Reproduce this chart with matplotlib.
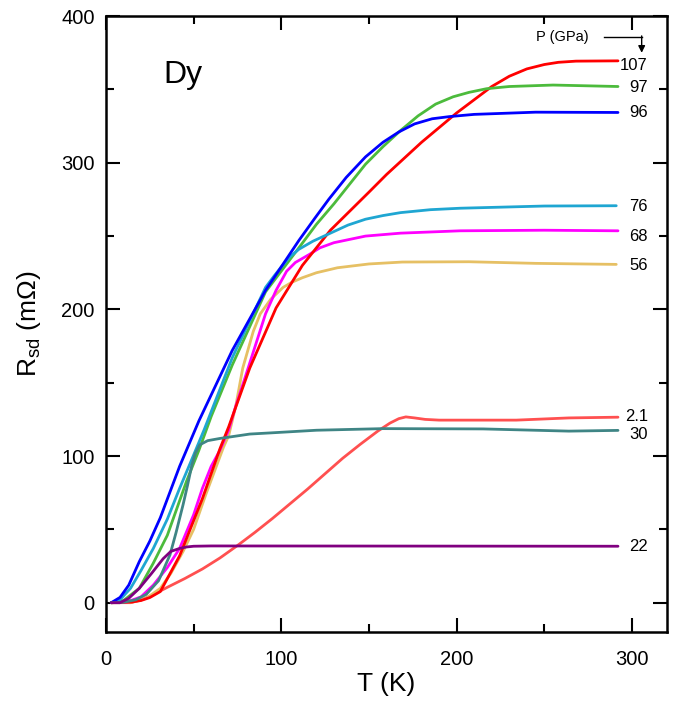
import matplotlib.pyplot as plt
from matplotlib.ticker import MultipleLocator

plt.rcParams["font.family"] = ["Liberation Sans", "DejaVu Sans"]
plt.rcParams["mathtext.fontset"] = "custom"
plt.rcParams["mathtext.rm"] = "Liberation Sans"

# ===== DATA =====
# pressure label -> (T in K, R_sd in mOhm)
t_107 = [3, 15, 20, 25, 31, 42, 55, 65, 70, 82, 97, 112, 120, 128, 139, 150, 160, 170,
         180, 190, 200, 210, 220, 230, 240, 250, 258, 268, 292]
r_107 = [0, 0.5, 1.5, 3.5, 7.6, 32, 71, 105, 120, 160, 201, 230, 242, 254, 267, 280, 292, 303,
         314, 324, 334, 343, 352, 359, 364, 367, 368.5, 369.3, 369.5]

t_97 = [3, 10, 19, 27, 35, 46, 53, 60, 72, 91, 110, 120, 130, 140, 148, 158, 168, 178, 188,
        198, 207, 217, 230, 255, 292]
r_97 = [0, 1.5, 9.8, 27, 46, 83, 104, 127, 162, 212, 242, 258, 272, 287, 299, 311, 322, 332, 340,
        345, 348, 350.5, 352, 353, 352]

t_96 = [3, 8, 13, 19, 25, 31, 42, 53, 72, 91, 110, 119, 127, 137, 148, 158, 167, 176, 186,
        196, 210, 245, 292]
r_96 = [0, 3.6, 12, 28, 42, 58, 93, 124, 172, 213, 247, 262, 275, 290, 304, 314, 321, 326.5, 330,
        331.5, 333, 334.5, 334.3]

t_76 = [3, 8, 14, 20, 27, 35, 42, 48, 56, 72, 91, 96, 100, 105, 110, 118, 128, 138, 148,
        158, 168, 185, 202, 250, 291]
r_76 = [0, 2, 9.8, 22, 37, 57, 78, 95, 118, 167, 215, 223, 229, 236, 241, 246.5, 252, 257.5,
        261.5, 264, 266, 268, 269, 270.5, 270.7]

t_68 = [3, 12, 20, 27, 35, 42, 50, 55, 60, 65, 70, 74, 80, 91, 97, 103, 108, 116, 122, 130,
        148, 168, 202, 250, 292]
r_68 = [0, 0.5, 4, 12, 24, 37, 60, 78, 93, 104, 118, 134, 156, 197, 213, 226, 232, 237.5, 242,
        245.5, 250, 252, 253.6, 254, 253.6]

t_56 = [3, 15, 23, 31, 37, 44, 50, 57, 62, 67, 70, 74, 78, 84, 88, 94, 101, 106, 112, 120,
        132, 150, 169, 207, 245, 291]
r_56 = [0, 0.5, 3, 9.8, 20, 35, 50, 74, 90, 106, 114, 134, 160, 185, 197, 207, 215, 218.5, 221.6,
        225, 228.4, 231, 232.3, 232.5, 231.4, 230.7]

t_30 = [3, 10, 17, 23, 30, 36.5, 40, 44, 46.5, 49, 51, 53.5, 58, 65, 82, 94, 120, 158, 215,
        264, 292]
r_30 = [0, 0.3, 2, 5.7, 15, 32.6, 48, 67, 80, 94, 102, 107.7, 110.5, 112, 115, 115.8, 117.6, 118.7,
        118.5, 117, 117.5]

t_22 = [3, 8, 13, 19, 26, 32.6, 37, 42, 46, 50, 60, 292]
r_22 = [0, 0, 3, 9.8, 20, 30, 35, 37, 38, 38.5, 38.7, 38.5]

t_21 = [3, 14, 20, 27, 35, 45, 55, 65, 75, 85, 95, 105, 115, 125, 135, 145, 155, 162, 167,
        171, 176, 182, 190, 234, 264, 292]
r_21 = [0, 0, 1.8, 5.5, 10.5, 16.5, 23, 30.5, 39, 48, 57.5, 67.5, 77.5, 88, 98.5, 108, 117, 122.5,
        125.5, 126.7, 126, 125, 124.5, 124.5, 126, 126.5]

labels = ["107", "97", "96", "76", "68", "56", "2.1", "30", "22"]
label_y = [366, 351, 334, 270, 250, 230, 127, 115, 38]
colors = ["#ff0000", "#4cbb3c", "#0000ff", "#1fa6d2", "#ff00ff", "#e6c064",
          "#ff5050", "#3f8585", "#800080"]
curves = [(t_107, r_107), (t_97, r_97), (t_96, r_96), (t_76, r_76), (t_68, r_68),
          (t_56, r_56), (t_21, r_21), (t_30, r_30), (t_22, r_22)]

# ===== PLOT =====
fig = plt.figure(figsize=(7, 7.01), dpi=100)
ax = fig.add_axes([0.1514, 0.0984, 0.8016, 0.8786])

# draw low-pressure curves first so the overlaps look like the original
draw_order = [6, 5, 4, 0, 1, 3, 2, 7, 8]
for i in draw_order:
    t, r = curves[i]
    ax.plot(t, r, color=colors[i], lw=2.0, solid_capstyle="round", solid_joinstyle="round")

for lab, y in zip(labels, label_y):
    ax.text(309, y, lab, fontsize=12, ha="right", va="center")

ax.text(275, 386, "P (GPa)", fontsize=10.5, ha="right", va="center")
ax.plot([284, 305.5], [386, 386], color="black", lw=1.0)
ax.annotate("", xy=(305.5, 375), xytext=(305.5, 386.5),
            arrowprops=dict(arrowstyle="-|>", color="black", lw=1.0,
                            mutation_scale=10, shrinkA=0, shrinkB=0))

ax.text(33, 360, "Dy", fontsize=23, ha="left", va="center")

ax.set_xlim(0, 320)
ax.set_ylim(-20, 400)
ax.xaxis.set_major_locator(MultipleLocator(100))
ax.xaxis.set_minor_locator(MultipleLocator(50))
ax.yaxis.set_major_locator(MultipleLocator(100))
ax.yaxis.set_minor_locator(MultipleLocator(50))
ax.tick_params(which="both", direction="in", top=True, right=True, width=1.5,
               labelsize=14.5)
ax.tick_params(which="major", length=10)
ax.tick_params(which="minor", length=6)
ax.tick_params(axis="y", which="major", pad=8)
ax.tick_params(axis="x", which="major", pad=13)
for s in ax.spines.values():
    s.set_linewidth(1.8)

ax.set_xlabel("T (K)", fontsize=19, labelpad=2)
ax.set_ylabel(r"R$_{\rm sd}$ (m$\Omega$)", fontsize=19, labelpad=13)

fig.savefig("out.png", dpi=100)
